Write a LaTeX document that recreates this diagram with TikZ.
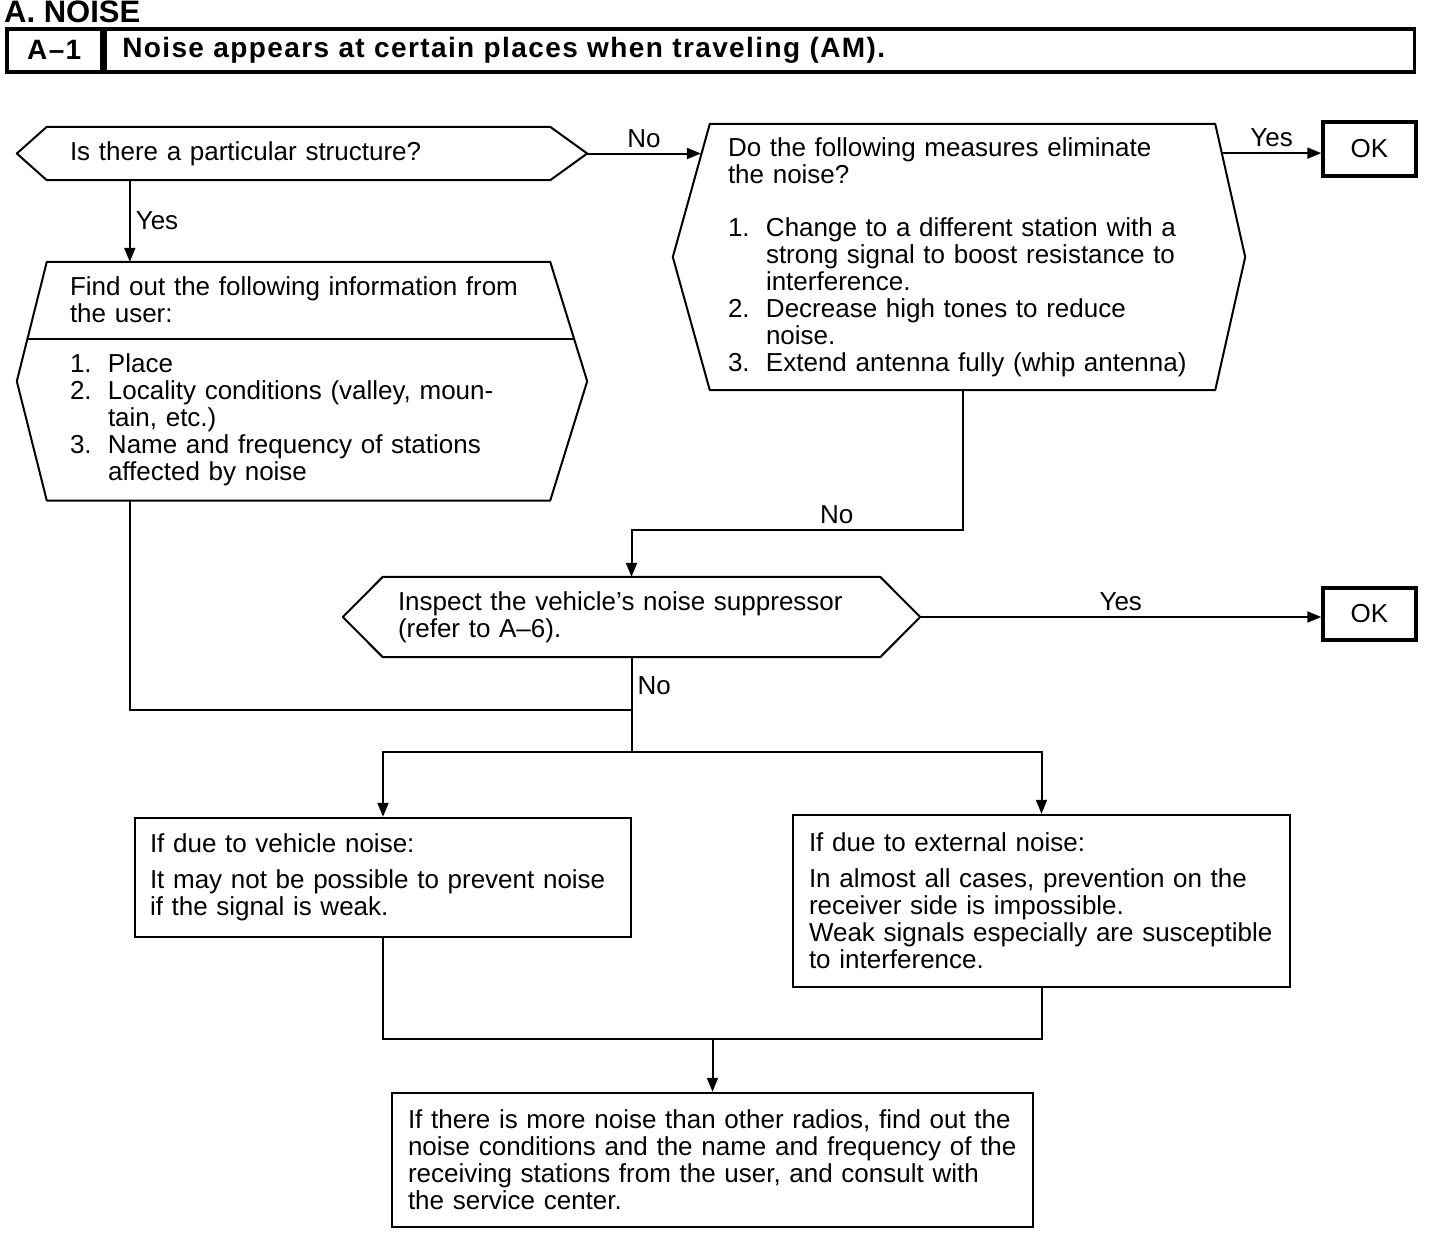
\documentclass[tikz,border=0pt]{standalone}
\usepackage{fontspec}
\setmainfont{Liberation Sans}
\usetikzlibrary{arrows.meta,calc}

\newcommand{\listno}[1]{\makebox[38pt][l]{#1}}
\newcommand{\listgap}{\hspace*{38pt}}

\begin{document}
\begin{tikzpicture}[
        x=1pt, y=-1pt,
        every node/.style={font=\fontsize{26}{27}\selectfont},
        panel/.style={rectangle, align=left, inner ysep=0pt},
        framed/.style={panel, draw, line width=2.5pt},
        okbox/.style={draw, line width=3.5pt, minimum width=93, minimum height=54, inner sep=0pt},
        headcell/.style={draw, line width=3.5pt, minimum height=43, inner ysep=0pt,
            font=\fontsize{28}{29}\selectfont\bfseries\addfontfeatures{LetterSpace=5}},
        outline/.style={line width=2pt, line join=round},
        link/.style={line width=2pt},
        flow/.style={link, -{Triangle[length=14pt, width=11pt]}},
        tag/.style={inner sep=5pt}
    ]
    \useasboundingbox (0,0) rectangle (1456,1248);

    % Heading
    \node[anchor=base west, inner sep=0pt, font=\fontsize{31}{32}\selectfont\bfseries] (section) at (4,22) {A. NOISE};
    \node[headcell, anchor=north west, minimum width=95, inner xsep=0pt] (hnum) at (5,27) {A–1};
    \node[headcell, anchor=north west, text width=1275, inner xsep=17, align=left] (htext) at (hnum.north east) {Noise appears at certain places when traveling (AM).};

    % Decision: particular structure
    \node[panel, minimum width=503, minimum height=53, text width=457, inner xsep=23] (d1) at (298.5,153.5) {Is there a particular structure?};
    \coordinate (d1l) at ([xshift=-30]d1.west);
    \coordinate (d1r) at ([xshift=37]d1.east);
    \draw[outline] (d1.north west) -- (d1.north east) -- (d1r) -- (d1.south east) -- (d1.south west) -- (d1l) -- cycle;

    % Information from the user
    \node[panel, minimum width=503, minimum height=76, text width=457, inner xsep=23] (p1top) at (298.5,300) {Find out the following information from\\the user:};
    \node[panel, minimum width=503, minimum height=162, text width=457, inner xsep=23, anchor=north] (p1list) at (p1top.south) {\listno{1.}Place\\\listno{2.}Locality conditions (valley, moun-\\\listgap tain, etc.)\\\listno{3.}Name and frequency of stations\\\listgap affected by noise};
    \coordinate (p1l) at ($(p1top.north west)!0.5!(p1list.south west)+(-30,0)$);
    \coordinate (p1r) at ($(p1top.north east)!0.5!(p1list.south east)+(37,0)$);
    \draw[outline] (p1top.north west) -- (p1top.north east) -- (p1r) -- (p1list.south east) -- (p1list.south west) -- (p1l) -- cycle;
    \draw[outline] ($(p1top.north west)!0.644!(p1l)$) -- ($(p1top.north east)!0.644!(p1r)$);

    % Decision: measures
    \node[panel, minimum width=505, minimum height=266, text width=469, inner xsep=18] (d2) at (962.5,257) {Do the following measures eliminate\\the noise?\\[26pt]\listno{1.}Change to a different station with a\\\listgap strong signal to boost resistance to\\\listgap interference.\\\listno{2.}Decrease high tones to reduce\\\listgap noise.\\\listno{3.}Extend antenna fully (whip antenna)};
    \coordinate (d2l) at ([xshift=-37]d2.west);
    \coordinate (d2r) at ([xshift=30]d2.east);
    \draw[outline] (d2.north west) -- (d2.north east) -- (d2r) -- (d2.south east) -- (d2.south west) -- (d2l) -- cycle;
    \coordinate (d2in) at ($(d2.north west)!0.24!(d2l)$);
    \coordinate (d2out) at ($(d2.north east)!0.22!(d2r)$);

    \node[okbox] (ok1) at (1369.5,149) {OK};

    % Decision: noise suppressor
    \node[panel, minimum width=497, minimum height=80, text width=467, inner xsep=15] (d3) at (631.5,617) {Inspect the vehicle’s noise suppressor\\(refer to A–6).};
    \coordinate (d3l) at ([xshift=-40]d3.west);
    \coordinate (d3r) at ([xshift=40]d3.east);
    \draw[outline] (d3.north west) -- (d3.north east) -- (d3r) -- (d3.south east) -- (d3.south west) -- (d3l) -- cycle;

    \node[okbox, minimum height=52] (ok2) at (1369.5,614) {OK};

    % Results
    \node[framed, minimum width=496, minimum height=119, text width=466, inner xsep=15] (b1) at (383,877.5) {If due to vehicle noise:\\[9pt]It may not be possible to prevent noise\\if the signal is weak.};
    \node[framed, minimum width=497, minimum height=172, text width=465, inner xsep=16] (b2) at (1041.5,901) {If due to external noise:\\[9pt]In almost all cases, prevention on the\\receiver side is impossible.\\Weak signals especially are susceptible\\to interference.};
    \node[framed, minimum width=641, minimum height=134, text width=609, inner xsep=16] (b3) at (712.5,1160) {If there is more noise than other radios, find out the\\noise conditions and the name and frequency of the\\receiving stations from the user, and consult with\\the service center.};

    % Connectors
    \draw[flow] (d1r) -- node[tag, above] {No} (d1r -| d2in);
    \draw[flow] ($(d1.south west)+(83,0)$) -- node[tag, right] {Yes} ($(p1top.north west)+(83,0)$);
    \draw[flow] (d2out) -- node[tag, above] {Yes} (d2out -| ok1.west);
    \draw[flow] (d2.south) |- node[tag, above, pos=0.69] {No} ($(d3.north)+(0,-47)$) -- (d3.north);
    \draw[flow] (d3r) -- node[tag, above] {Yes} (d3r -| ok2.west);
    \coordinate (split) at ($(d3.south)+(0,95)$);
    \draw[link] (d3.south) -- node[tag, right, pos=0.3] {No} (split);
    \draw[link] ($(p1list.south west)+(83,0)$) |- ($(d3.south)+(0,53)$);
    \draw[flow] (split) -| (b1.north);
    \draw[flow] (split) -| (b2.north);
    \coordinate (merge) at ($(b3.north)+(0,-53)$);
    \draw[link] (b1.south) |- (merge) -| (b2.south);
    \draw[flow] (merge) -- (b3.north);

\end{tikzpicture}
\end{document}
